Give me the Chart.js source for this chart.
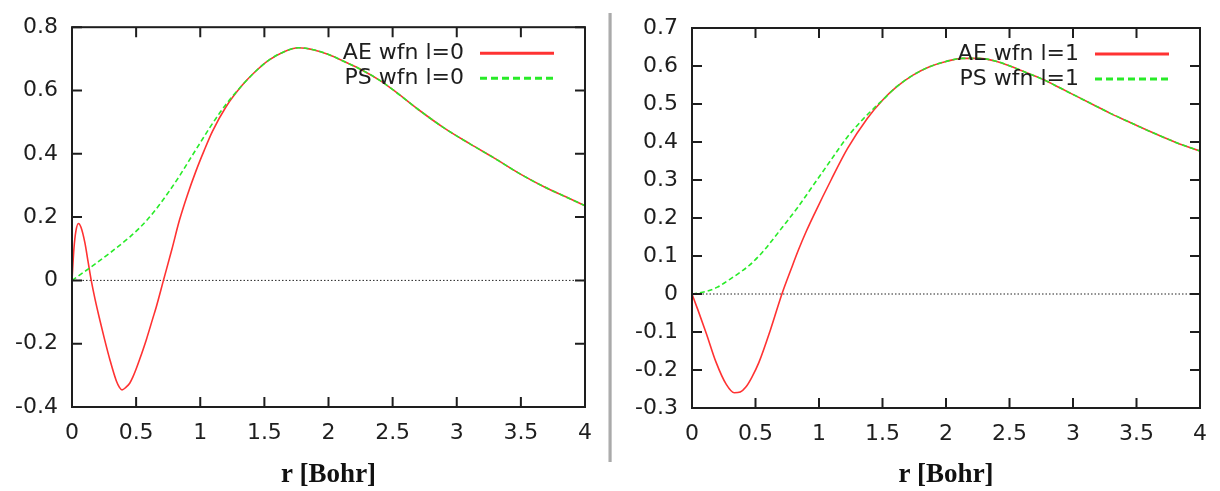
<!DOCTYPE html>
<html>
<head>
<meta charset="utf-8">
<script src="https://cdn.jsdelivr.net/npm/chart.js@4.4.1/dist/chart.umd.min.js"></script>
<style>
  html, body { margin: 0; padding: 0; background: #fff; }
  body { width: 1220px; height: 491px; position: relative; overflow: hidden; }
  .box { position: absolute; top: 0; height: 491px; }
  #leftBox { left: 0; width: 605px; }
  #rightBox { left: 612px; width: 608px; }
  #divider { position: absolute; left: 608px; top: 13px; width: 4px; height: 449px;
    background: linear-gradient(to right, #e6e6e6, #9a9a9a, #d6d6d6); }
</style>
</head>
<body>
<div class="box" id="leftBox"><canvas id="chartL"></canvas></div>
<div id="divider"></div>
<div class="box" id="rightBox"><canvas id="chartR"></canvas></div>
<script>
// axis ticks
const xTicks = [0, 0.5, 1, 1.5, 2, 2.5, 3, 3.5, 4];
const yTicksL = [-0.4, -0.2, 0, 0.2, 0.4, 0.6, 0.8];
const yTicksR = [-0.3, -0.2, -0.1, 0, 0.1, 0.2, 0.3, 0.4, 0.5, 0.6, 0.7];
const xTitle = 'r [Bohr]';

// l=0, all-electron
const rAE0 = [0, 0.015, 0.03, 0.05, 0.07, 0.1, 0.125, 0.15, 0.18, 0.217, 0.25, 0.295, 0.346, 0.37, 0.39,
  0.42, 0.45, 0.475, 0.5, 0.527, 0.579, 0.63, 0.657, 0.713, 0.78, 0.837, 0.9, 0.967, 1.03, 1.095, 1.2, 1.33,
  1.43, 1.535, 1.65, 1.767, 1.88, 2.0, 2.13, 2.26, 2.4, 2.52, 2.7, 2.9, 3.1, 3.29, 3.5, 3.68, 3.85, 4.0];
const ae0 = [0, 0.1, 0.155, 0.18, 0.168, 0.12, 0.06, 0, -0.06, -0.125, -0.18, -0.25, -0.318, -0.338, -0.346,
  -0.338, -0.325, -0.305, -0.28, -0.25, -0.188, -0.12, -0.084, 0, 0.1, 0.189, 0.27, 0.346, 0.41, 0.471, 0.548, 0.618,
  0.66, 0.696, 0.722, 0.735, 0.729, 0.714, 0.69, 0.665, 0.632, 0.597, 0.54, 0.482, 0.432, 0.387, 0.335, 0.296, 0.264, 0.236];

// l=0, pseudo
const rPS0 = [0, 0.14, 0.3, 0.45, 0.53, 0.605, 0.68, 0.76, 0.84, 0.915, 1.0, 1.07, 1.15, 1.2, 1.33,
  1.43, 1.535, 1.65, 1.767, 1.88, 2.0, 2.13, 2.26, 2.4, 2.52, 2.7, 2.9, 3.1, 3.29, 3.5, 3.68, 3.85, 4.0];
const ps0 = [0, 0.04, 0.088, 0.137, 0.167, 0.2, 0.238, 0.283, 0.331, 0.38, 0.435, 0.48, 0.528, 0.556, 0.618,
  0.66, 0.696, 0.722, 0.735, 0.729, 0.714, 0.69, 0.665, 0.632, 0.597, 0.54, 0.482, 0.432, 0.387, 0.335, 0.296, 0.264, 0.236];

// l=1, all-electron
const rAE1 = [0, 0.05, 0.114, 0.19, 0.27, 0.333, 0.38, 0.424, 0.47, 0.527, 0.618, 0.708, 0.78, 0.837, 0.9, 0.967,
  1.095, 1.225, 1.38, 1.5, 1.61, 1.74, 1.87, 2.0, 2.13, 2.26, 2.4, 2.52, 2.65, 2.775, 2.9,
  3.03, 3.16, 3.29, 3.42, 3.55, 3.68, 3.81, 4.0];
const ae1 = [0, -0.045, -0.105, -0.18, -0.238, -0.26, -0.258, -0.245, -0.22, -0.18, -0.094, 0, 0.065, 0.115, 0.165, 0.213,
  0.30, 0.383, 0.462, 0.51, 0.545, 0.576, 0.598, 0.612, 0.62, 0.62, 0.612, 0.598, 0.58, 0.563, 0.542,
  0.52, 0.498, 0.476, 0.456, 0.436, 0.417, 0.399, 0.376];

// l=1, pseudo
const rPS1 = [0, 0.114, 0.2, 0.295, 0.4, 0.45, 0.527, 0.58, 0.71, 0.837, 0.967, 1.095, 1.225, 1.355, 1.43,
  1.5, 1.61, 1.74, 1.87, 2.0, 2.13, 2.26, 2.4, 2.52, 2.65, 2.775, 2.9, 3.03, 3.16, 3.29,
  3.42, 3.55, 3.68, 3.81, 4.0];
const ps1 = [0, 0.007, 0.018, 0.038, 0.062, 0.075, 0.1, 0.12, 0.175, 0.23, 0.292, 0.353, 0.414, 0.463, 0.488,
  0.51, 0.545, 0.576, 0.598, 0.612, 0.62, 0.62, 0.612, 0.598, 0.58, 0.563, 0.542, 0.52, 0.498, 0.476,
  0.456, 0.436, 0.417, 0.399, 0.376];

const RED = 'rgb(255, 50, 50)';
const GREEN = 'rgb(40, 235, 40)';
const INK = '#1e1e1e';
const tickFont = { family: 'DejaVu Sans', size: 22 };

// gnuplot look: frame, inward ticks on all sides, dotted zero axis, key inside plot
const gnuplotFrame = {
  id: 'gnuplotFrame',
  beforeDatasetsDraw(chart) {
    const { ctx, chartArea: a, scales: { y } } = chart;
    const y0 = y.getPixelForValue(0);
    ctx.save();
    ctx.strokeStyle = '#222';
    ctx.lineWidth = 1;
    ctx.setLineDash([1.5, 2]);
    ctx.beginPath();
    ctx.moveTo(a.left, y0);
    ctx.lineTo(a.right, y0);
    ctx.stroke();
    ctx.restore();
  },
  afterDatasetsDraw(chart) {
    const { ctx, chartArea: a, scales: { x, y } } = chart;
    ctx.save();
    ctx.strokeStyle = INK;
    ctx.lineWidth = 2;
    ctx.strokeRect(a.left, a.top, a.right - a.left, a.bottom - a.top);
    const len = 10;
    ctx.beginPath();
    x.ticks.forEach(t => {
      const px = x.getPixelForValue(t.value);
      ctx.moveTo(px, a.bottom); ctx.lineTo(px, a.bottom - len);
      ctx.moveTo(px, a.top); ctx.lineTo(px, a.top + len);
    });
    y.ticks.forEach(t => {
      const py = y.getPixelForValue(t.value);
      ctx.moveTo(a.left, py); ctx.lineTo(a.left + len, py);
      ctx.moveTo(a.right, py); ctx.lineTo(a.right - len, py);
    });
    ctx.stroke();

    // key
    ctx.font = '22px "DejaVu Sans"';
    ctx.textAlign = 'right';
    ctx.textBaseline = 'middle';
    chart.data.datasets.forEach((ds, i) => {
      const ly = a.top + 26 + i * 25;
      ctx.fillStyle = INK;
      ctx.fillText(ds.label, a.right - 121, ly);
      ctx.strokeStyle = ds.borderColor;
      ctx.lineWidth = 3;
      ctx.setLineDash(ds.borderDash.length ? [7, 4] : []);
      ctx.beginPath();
      ctx.moveTo(a.right - 105, ly);
      ctx.lineTo(a.right - 31, ly);
      ctx.stroke();
    });
    ctx.restore();
  }
};

function makeChart(id, series, yTicks, pad, yWidth, xHeight) {
  new Chart(document.getElementById(id), {
    type: 'line',
    data: {
      datasets: series.map(s => ({
        label: s.label,
        data: s.r.map((r, i) => ({ x: r, y: s.v[i] })),
        borderColor: s.color,
        borderWidth: 1.6,
        borderDash: s.dash,
        pointRadius: 0,
        fill: false,
        cubicInterpolationMode: 'monotone',
        order: s.order
      }))
    },
    options: {
      responsive: true,
      maintainAspectRatio: false,
      animation: false,
      layout: { padding: pad },
      plugins: { legend: { display: false }, tooltip: { enabled: false } },
      scales: {
        x: {
          type: 'linear',
          min: 0,
          max: 4,
          afterBuildTicks: s => { s.ticks = xTicks.map(v => ({ value: v })); },
          afterFit: s => { s.height = xHeight; },
          grid: { display: false, drawTicks: false },
          border: { display: false },
          ticks: { color: INK, font: tickFont, padding: 13, maxRotation: 0, autoSkip: false,
            callback: v => String(v) },
          title: { display: true, text: xTitle, color: '#111',
            font: { family: 'Liberation Serif', size: 27, weight: 'bold' },
            padding: { top: 0, bottom: 0 } }
        },
        y: {
          type: 'linear',
          min: yTicks[0],
          max: yTicks[yTicks.length - 1],
          afterBuildTicks: s => { s.ticks = yTicks.map(v => ({ value: v })); },
          afterFit: s => { s.width = yWidth; },
          grid: { display: false, drawTicks: false },
          border: { display: false },
          ticks: { color: INK, font: tickFont, padding: 14, autoSkip: false,
            callback: v => String(v) }
        }
      }
    },
    plugins: [gnuplotFrame]
  });
}

makeChart('chartL', [
  { label: 'AE wfn l=0', r: rAE0, v: ae0, color: RED, dash: [], order: 1 },
  { label: 'PS wfn l=0', r: rPS0, v: ps0, color: GREEN, dash: [5, 3], order: 0 }
], yTicksL, { top: 25, right: 17, bottom: 0, left: 0 }, 72, 84);

makeChart('chartR', [
  { label: 'AE wfn l=1', r: rAE1, v: ae1, color: RED, dash: [], order: 1 },
  { label: 'PS wfn l=1', r: rPS1, v: ps1, color: GREEN, dash: [5, 3], order: 0 }
], yTicksR, { top: 28, right: 12, bottom: 0, left: 0 }, 80, 83);
</script>
</body>
</html>
